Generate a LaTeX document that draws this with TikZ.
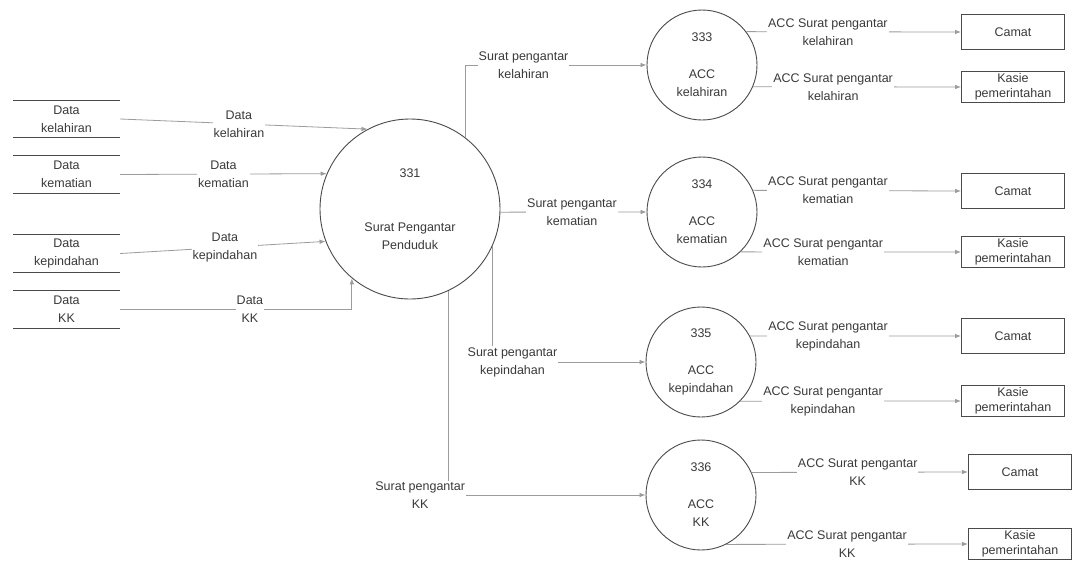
\documentclass[tikz,border=0pt]{standalone}
\usepackage{fontspec}
\setmainfont{Liberation Sans}
\usepackage{xcolor}
\usepackage{tikz}
\usetikzlibrary{arrows.meta}
\definecolor{bg}{HTML}{FFFFFF}
\definecolor{ink}{HTML}{3A3A3A}
\definecolor{edge}{HTML}{4A4A4A}
\definecolor{wire}{HTML}{9C9C9C}
\newcommand{\txt}{\fontsize{12.5}{18}\selectfont}
\newcommand{\txtk}{\fontsize{12.5}{15}\selectfont}
\tikzset{
  base/.style={draw=edge, line width=0.9pt},
  proc/.style={base, circle, fill=bg, minimum size=110pt, inner sep=0pt, align=center, text=ink, font=\txt},
  store/.style={minimum width=107pt, minimum height=37pt, inner sep=0pt, align=center, text=ink, font=\txt},
  ent/.style={base, minimum width=103pt, minimum height=35pt, inner sep=0pt, align=center, text=ink, font=\txt},
  entk/.style={ent, minimum height=31pt, font=\txtk},
  flow/.style={draw=wire, line width=0.8pt, -{Latex[length=6pt,width=4.5pt]}},
  lab/.style={fill=bg, inner sep=1pt, align=center, text=ink, font=\txt}
}

\begin{document}
\begin{tikzpicture}[x=1pt,y=-1pt]
  \useasboundingbox[fill=bg] (0,0) rectangle (1073,563);

  \node[store] (s1) at (66.5,119) {Data\\kelahiran};
  \node[store] (s2) at (66.5,174.5) {Data\\kematian};
  \node[store] (s3) at (66.5,253.5) {Data\\kepindahan};
  \node[store] (s4) at (66.5,309.5) {Data\\KK};
  \foreach \s in {s1,s2,s3,s4}
    \draw[base] (\s.north west) -- (\s.north east) (\s.south west) -- (\s.south east);

  \node[proc, minimum size=180pt] (main) at (410,209) {331\\[36pt]Surat Pengantar\\Penduduk};

  \node[proc] (c333) at (702,65) {333\\[19pt]ACC\\kelahiran};
  \node[proc] (c334) at (702,212) {334\\[19pt]ACC\\kematian};
  \node[proc] (c335) at (701,362) {335\\[19pt]ACC\\kepindahan};
  \node[proc] (c336) at (701,495) {336\\[19pt]ACC\\KK};

  \node[ent] (k1) at (1013,32) {Camat};
  \node[entk] (p1) at (1013,87) {Kasie\\pemerintahan};
  \node[ent] (k2) at (1013,191) {Camat};
  \node[entk] (p2) at (1013,252) {Kasie\\pemerintahan};
  \node[ent] (k3) at (1013,336) {Camat};
  \node[entk] (p3) at (1013,401) {Kasie\\pemerintahan};
  \node[ent] (k4) at (1020,472) {Camat};
  \node[entk] (p4) at (1020,544) {Kasie\\pemerintahan};

  % masuk ke proses 331
  \draw[flow] (s1.east) -- node[lab, pos=0.48] (l1) {Data\\kelahiran} (main.118);
  \draw[flow] (s2.east) -- node[lab, pos=0.5] (l2) {Data\\kematian} (main.157);
  \draw[flow] (s3.east) -- node[lab, pos=0.51] (l3) {Data\\kepindahan} (main.201);
  \draw[flow] (s4.east) -| node[lab, pos=0.28] (l4) {Data\\KK} (main.230);

  % keluar dari proses 331
  \draw[flow] (main.52) |- node[lab, pos=0.66] (o1) {Surat pengantar\\kelahiran} (c333.west);
  \draw[flow] (main.-2) -- node[lab, pos=0.49] (o2) {Surat pengantar\\kematian} (c334.west);
  \draw[flow] (main.-24) |- node[lab, pos=0.565] (o3) {Surat pengantar\\kepindahan} (c335.west);
  \draw[flow] (main.-65) |- node[lab, pos=0.5, xshift=-28pt] (o4) {Surat pengantar\\KK} (c336.west);

  % ACC ke camat dan kasie
  \draw[flow] (c333.37) -- node[lab, pos=0.38] (a1) {ACC Surat pengantar\\kelahiran} (k1.west);
  \draw[flow] (c333.-23.6) -- node[lab, pos=0.385] (b1) {ACC Surat pengantar\\kelahiran} (p1.west);
  \draw[flow] (c334.23) -- node[lab, pos=0.36] (a2) {ACC Surat pengantar\\kematian} (k2.west);
  \draw[flow] (c334.-46.7) -- node[lab, pos=0.375] (b2) {ACC Surat pengantar\\kematian} (p2.west);
  \draw[flow] (c335.28.2) -- node[lab, pos=0.37] (a3) {ACC Surat pengantar\\kepindahan} (k3.west);
  \draw[flow] (c335.-45.2) -- node[lab, pos=0.375] (b3) {ACC Surat pengantar\\kepindahan} (p3.west);
  \draw[flow] (c336.24.7) -- node[lab, pos=0.49] (a4) {ACC Surat pengantar\\KK} (k4.west);
  \draw[flow] (c336.-63) -- node[lab, pos=0.5] (b4) {ACC Surat pengantar\\KK} (p4.west);
\end{tikzpicture}
\end{document}
